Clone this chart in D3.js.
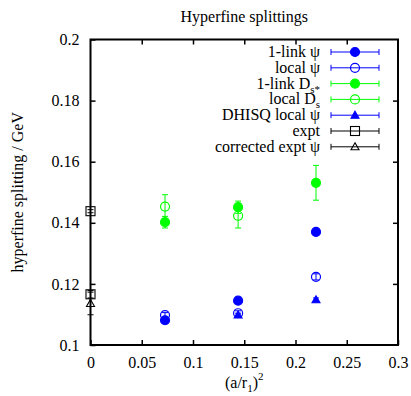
<!DOCTYPE html>
<html>
<head>
<meta charset="utf-8">
<script src="https://cdn.jsdelivr.net/npm/d3@7"></script>
<style>
  body { margin: 0; background: #fff; }
  svg text { font-family: "Liberation Serif", "DejaVu Serif", serif !important; }
</style>
</head>
<body>
<div id="chart"></div>
<script>
// lattice spacings (a/r1)^2
const aSq = [0.0727, 0.144, 0.22];

// 1-link psi
const linkPsi = [0.1081, 0.1145, 0.137];
const linkPsiErr = [0.0004, 0.0004, 0.0004];
// local psi
const localPsi = [0.1098, 0.1104, 0.1223];
const localPsiErr = [0.0008, 0.0008, 0.0010];
// 1-link Ds*
const linkDs = [0.1402, 0.1451, 0.1531];
const linkDsErr = [0.0019, 0.0020, 0.0057];
// local Ds
const localDs = [0.1453, 0.1423, null];
const localDsErr = [0.0039, 0.0040, null];
// DHISQ local psi
const dhisqX = [0.144, 0.22];
const dhisqPsi = [0.1098, 0.1148];
const dhisqErr = [0.0006, 0.0006];
// experiment
const exptX = [0, 0];
const expt = [0.1438, 0.1166];
const exptErr = [0.0005, 0.0012];
const corrX = [0];
const corrExpt = [0.1136];
const corrErr = [0.0037];

const xTicks = [0, 0.05, 0.1, 0.15, 0.2, 0.25, 0.3];
const yTicks = [0.1, 0.12, 0.14, 0.16, 0.18, 0.2];

const width = 411, height = 396;
const margin = {top: 39.5, right: 13, bottom: 51, left: 90.5};
const serif = "Liberation Serif, DejaVu Serif, serif";
const fs = 16;

const svg = d3.select("#chart").append("svg")
  .attr("width", width)
  .attr("height", height)
  .attr("font-family", serif);

const x = d3.scaleLinear().domain([0, 0.3]).range([margin.left, width - margin.right]);
const y = d3.scaleLinear().domain([0.1, 0.2]).range([height - margin.bottom, margin.top]);

const blue = "#0000ff", green = "#00ff00";

// axes with inward ticks, mirrored on top/right
const tickLen = 5;
svg.append("g")
  .attr("transform", `translate(0,${y(0.1)})`)
  .call(d3.axisBottom(x).tickValues(xTicks).tickSize(-tickLen).tickPadding(12).tickFormat(d3.format("")))
  .call(g => g.select(".domain").remove());
svg.append("g")
  .attr("transform", `translate(0,${y(0.2)})`)
  .call(d3.axisTop(x).tickValues(xTicks.slice(1, -1)).tickSize(-tickLen).tickFormat(""))
  .call(g => g.select(".domain").remove());
svg.append("g")
  .attr("transform", `translate(${x(0)},0)`)
  .call(d3.axisLeft(y).tickValues(yTicks).tickSize(-tickLen).tickPadding(11).tickFormat(d3.format("")))
  .call(g => g.select(".domain").remove());
svg.append("g")
  .attr("transform", `translate(${x(0.3)},0)`)
  .call(d3.axisRight(y).tickValues(yTicks.slice(1, -1)).tickSize(-tickLen).tickFormat(""))
  .call(g => g.select(".domain").remove());

svg.selectAll("g").attr("font-family", serif);
svg.selectAll(".tick line").attr("stroke", "#000").attr("stroke-width", 1.5);
svg.selectAll(".tick text")
  .attr("font-size", fs)
  .attr("fill", "#000");

// frame
svg.append("rect")
  .attr("x", x(0)).attr("y", y(0.2))
  .attr("width", x(0.3) - x(0)).attr("height", y(0.1) - y(0.2))
  .attr("fill", "none").attr("stroke", "#000").attr("stroke-width", 2);

// title and axis labels
svg.append("text")
  .attr("x", (x(0) + x(0.3)) / 2).attr("y", 22)
  .attr("text-anchor", "middle").attr("font-size", fs)
  .text("Hyperfine splittings");

svg.append("text")
  .attr("transform", `translate(23,${(y(0.1) + y(0.2)) / 2}) rotate(-90)`)
  .attr("text-anchor", "middle").attr("font-size", fs)
  .text("hyperfine splitting / GeV");

const xl = svg.append("text")
  .attr("x", (x(0) + x(0.3)) / 2).attr("y", 388)
  .attr("text-anchor", "middle").attr("font-size", fs);
xl.append("tspan").text("(a/r");
xl.append("tspan").attr("dy", 4).attr("font-size", 11).text("1");
xl.append("tspan").attr("dy", -4).text(")");
xl.append("tspan").attr("dy", -8).attr("font-size", 11).text("2");

// marker drawing
function marker(g, shape, cx, cy, color) {
  if (shape === "fcircle" || shape === "ocircle") {
    g.append("circle").attr("cx", cx).attr("cy", cy).attr("r", 4.5)
      .attr("fill", shape === "fcircle" ? color : "none")
      .attr("stroke", color).attr("stroke-width", 1.2);
  } else if (shape === "ftri" || shape === "otri") {
    const s = 4;
    g.append("path")
      .attr("d", `M${cx},${cy - s}L${cx + s},${cy + s * 0.75}L${cx - s},${cy + s * 0.75}Z`)
      .attr("fill", shape === "ftri" ? color : "none")
      .attr("stroke", color).attr("stroke-width", 1.1);
  } else if (shape === "osquare") {
    g.append("rect").attr("x", cx - 4.5).attr("y", cy - 4.5).attr("width", 9).attr("height", 9)
      .attr("fill", "none").attr("stroke", color).attr("stroke-width", 1.1);
  }
}

const series = [
  {label: ["1-link ψ"], xs: aSq, ys: linkPsi, es: linkPsiErr, color: blue, shape: "fcircle"},
  {label: ["local ψ"], xs: aSq, ys: localPsi, es: localPsiErr, color: blue, shape: "ocircle"},
  {label: ["1-link D", "s*"], xs: aSq, ys: linkDs, es: linkDsErr, color: green, shape: "fcircle"},
  {label: ["local D", "s"], xs: aSq, ys: localDs, es: localDsErr, color: green, shape: "ocircle"},
  {label: ["DHISQ local ψ"], xs: dhisqX, ys: dhisqPsi, es: dhisqErr, color: blue, shape: "ftri"},
  {label: ["expt"], xs: exptX, ys: expt, es: exptErr, color: "#000", shape: "osquare"},
  {label: ["corrected expt ψ"], xs: corrX, ys: corrExpt, es: corrErr, color: "#000", shape: "otri"}
];

const plot = svg.append("g");
series.forEach(s => {
  const g = plot.append("g");
  s.xs.forEach((xv, i) => {
    if (s.ys[i] == null) return;
    const cx = x(xv), cy = y(s.ys[i]);
    const y0 = y(s.ys[i] - s.es[i]), y1 = y(s.ys[i] + s.es[i]);
    g.append("line").attr("x1", cx).attr("x2", cx).attr("y1", y0).attr("y2", y1)
      .attr("stroke", s.color).attr("stroke-width", 1);
    [y0, y1].forEach(yy => g.append("line")
      .attr("x1", cx - 3).attr("x2", cx + 3).attr("y1", yy).attr("y2", yy)
      .attr("stroke", s.color).attr("stroke-width", 1));
    marker(g, s.shape, cx, cy, s.color);
  });
});

// legend
const leg = svg.append("g");
series.forEach((s, i) => {
  const ly = 52 + i * 15.8;
  const t = leg.append("text").attr("x", 320).attr("y", ly + 5)
    .attr("text-anchor", "end").attr("font-size", fs);
  t.append("tspan").text(s.label[0]);
  if (s.label[1]) t.append("tspan").attr("dy", 4).attr("font-size", 11).text(s.label[1]);
  leg.append("line").attr("x1", 331).attr("x2", 379).attr("y1", ly).attr("y2", ly)
    .attr("stroke", s.color).attr("stroke-width", 1);
  [331, 379].forEach(xx => leg.append("line")
    .attr("x1", xx).attr("x2", xx).attr("y1", ly - 3).attr("y2", ly + 3)
    .attr("stroke", s.color).attr("stroke-width", 1));
  marker(leg, s.shape, 355, ly, s.color);
});
</script>
</body>
</html>
